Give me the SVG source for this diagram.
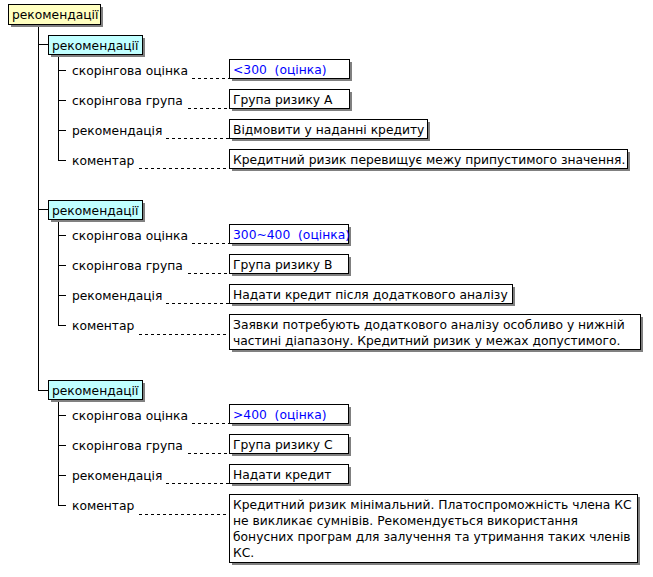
<svg xmlns="http://www.w3.org/2000/svg" width="653" height="577" viewBox="0 0 653 577">
<style>
text{font-family:"DejaVu Sans","Liberation Sans",sans-serif;font-size:12.3px;fill:#000;white-space:pre}
.sh{fill:#808080}
.box{fill:#fff;stroke:#000;stroke-width:1}
.root{fill:#ffffc0;stroke:#000;stroke-width:1}
.hdr{fill:#c0ffff;stroke:#000;stroke-width:1}
.ln{stroke:#000;stroke-width:1;fill:none}
.dash{stroke:#000;stroke-width:1;stroke-dasharray:3,3;fill:none}
.blue{fill:#0000ff}
</style>
<rect width="653" height="577" fill="#fff"/>
<g id="connectors">
<path class="ln" d="M38.5 24V390.5M38 44.5H48M38 209.5H48M38 390.5H48"/>
<path class="ln" d="M58.5 54V160.5M58 70.5H66M58 100.5H66M58 130.5H66M58 160.5H66"/>
<path class="ln" d="M58.5 219V325.5M58 235.5H66M58 265.5H66M58 295.5H66M58 325.5H66"/>
<path class="ln" d="M58.5 399V505.5M58 415.5H66M58 445.5H66M58 475.5H66M58 505.5H66"/>
<path class="dash" d="M192 78.5H229M188 108.5H229M166 138.5H229M139 168.5H229"/>
<path class="dash" d="M192 243.5H229M188 273.5H229M166 303.5H229M139 334.5H229"/>
<path class="dash" d="M192 423.5H229M188 453.5H229M166 483.5H229M139 514.5H229"/>
</g>
<g id="root"><rect class="sh" x="11" y="7" width="92" height="20"/><rect class="root" x="8.5" y="4.5" width="92" height="20"/><text x="12" y="19">рекомендації</text></g>

<g id="g1">
<g id="g1h"><rect class="sh" x="51" y="38" width="94" height="19"/><rect class="hdr" x="48.5" y="35.5" width="94" height="19"/><text x="52" y="50">рекомендації</text></g>
<g id="g1l1"><text x="72" y="75">скорінгова оцінка</text></g>
<g id="g1v1"><rect class="sh" x="232" y="62" width="120" height="19"/><rect class="box" x="229.5" y="59.5" width="120" height="19"/><text class="blue" x="233" y="74">&lt;300  (оцінка)</text></g>
<g id="g1l2"><text x="72" y="105">скорінгова група</text></g>
<g id="g1v2"><rect class="sh" x="232" y="92" width="120" height="19"/><rect class="box" x="229.5" y="89.5" width="120" height="19"/><text x="233" y="104">Група ризику А</text></g>
<g id="g1l3"><text x="72" y="135">рекомендація</text></g>
<g id="g1v3"><rect class="sh" x="232" y="122" width="198" height="19"/><rect class="box" x="229.5" y="119.5" width="198" height="19"/><text x="233" y="134">Відмовити у наданні кредиту</text></g>
<g id="g1l4"><text x="72" y="165">коментар</text></g>
<g id="g1v4"><rect class="sh" x="232" y="152" width="398" height="19"/><rect class="box" x="229.5" y="149.5" width="398" height="19"/><text x="233" y="164">Кредитний ризик перевищує межу припустимого значення.</text></g>
</g>

<g id="g2">
<g id="g2h"><rect class="sh" x="51" y="203" width="94" height="19"/><rect class="hdr" x="48.5" y="200.5" width="94" height="19"/><text x="52" y="215">рекомендації</text></g>
<g id="g2l1"><text x="72" y="240">скорінгова оцінка</text></g>
<g id="g2v1"><rect class="sh" x="232" y="227" width="119" height="19"/><rect class="box" x="229.5" y="224.5" width="119" height="19"/><text class="blue" x="233" y="239">300~400  (оцінка)</text></g>
<g id="g2l2"><text x="72" y="270">скорінгова група</text></g>
<g id="g2v2"><rect class="sh" x="232" y="257" width="119" height="19"/><rect class="box" x="229.5" y="254.5" width="119" height="19"/><text x="233" y="269">Група ризику В</text></g>
<g id="g2l3"><text x="72" y="300">рекомендація</text></g>
<g id="g2v3"><rect class="sh" x="232" y="287" width="283" height="19"/><rect class="box" x="229.5" y="284.5" width="283" height="19"/><text x="233" y="299">Надати кредит після додаткового аналізу</text></g>
<g id="g2l4"><text x="72" y="330">коментар</text></g>
<g id="g2v4"><rect class="sh" x="232" y="317" width="411" height="35"/><rect class="box" x="229.5" y="314.5" width="411" height="35"/><text x="233" y="329">Заявки потребують додаткового аналізу особливо у нижній</text><text x="233" y="345">частині діапазону. Кредитний ризик у межах допустимого.</text></g>
</g>

<g id="g3">
<g id="g3h"><rect class="sh" x="51" y="383" width="94" height="19"/><rect class="hdr" x="48.5" y="380.5" width="94" height="19"/><text x="52" y="395">рекомендації</text></g>
<g id="g3l1"><text x="72" y="420">скорінгова оцінка</text></g>
<g id="g3v1"><rect class="sh" x="232" y="407" width="119" height="19"/><rect class="box" x="229.5" y="404.5" width="119" height="19"/><text class="blue" x="233" y="419">&gt;400  (оцінка)</text></g>
<g id="g3l2"><text x="72" y="450">скорінгова група</text></g>
<g id="g3v2"><rect class="sh" x="232" y="437" width="119" height="19"/><rect class="box" x="229.5" y="434.5" width="119" height="19"/><text x="233" y="449">Група ризику С</text></g>
<g id="g3l3"><text x="72" y="480">рекомендація</text></g>
<g id="g3v3"><rect class="sh" x="232" y="467" width="119" height="19"/><rect class="box" x="229.5" y="464.5" width="119" height="19"/><text x="233" y="479">Надати кредит</text></g>
<g id="g3l4"><text x="72" y="510">коментар</text></g>
<g id="g3v4"><rect class="sh" x="232" y="497" width="408" height="68"/><rect class="box" x="229.5" y="494.5" width="408" height="68"/><text x="233" y="509">Кредитний ризик мінімальний. Платоспроможність члена КС</text><text x="233" y="525">не викликає сумнівів. Рекомендується використання</text><text x="233" y="541">бонусних програм для залучення та утримання таких членів</text><text x="233" y="557">КС.</text></g>
</g>
</svg>
